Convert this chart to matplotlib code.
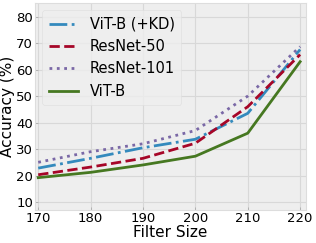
import matplotlib
matplotlib.use("Agg")
import matplotlib.pyplot as plt

filter_size = [170, 180, 190, 200, 210, 220]
vit_kd = [22.8, 26.5, 30.5, 33.7, 43.5, 67.6]
resnet50 = [20.3, 23.2, 26.5, 32.2, 46.0, 65.7]
resnet101 = [25.0, 29.0, 32.0, 37.0, 50.0, 68.7]
vit = [19.2, 21.2, 24.0, 27.3, 36.0, 63.0]

plt.style.use("bmh")

fig, ax = plt.subplots(figsize=(3.16, 2.43), dpi=100)
ax.set_facecolor("#eeeeee")

ax.plot(filter_size, vit_kd, color="#348ABD", linestyle="-.", linewidth=2, label="ViT-B (+KD)")
ax.plot(filter_size, resnet50, color="#A60628", linestyle="--", linewidth=2, label="ResNet-50")
ax.plot(filter_size, resnet101, color="#7A68A6", linestyle=":", linewidth=2, label="ResNet-101")
ax.plot(filter_size, vit, color="#467821", linestyle="-", linewidth=2, label="ViT-B")

ax.set_xlim(169.4, 221.1)
ax.set_ylim(7.0, 85.2)
ax.set_xticks(filter_size)
ax.set_yticks([10, 20, 30, 40, 50, 60, 70, 80])
ax.tick_params(labelsize=9.5, length=2, width=0.6, color="#aaaaaa", pad=1.5)
ax.grid(True, color="#d8d8d8", linestyle="-", linewidth=0.8)
for s in ax.spines.values():
    s.set_color("#dddddd")

ax.set_xlabel("Filter Size", fontsize=11, labelpad=0)
ax.set_ylabel("Accuracy (%)", fontsize=11, labelpad=1)

ax.legend(loc="upper left", fontsize=10.5, frameon=True, facecolor="#eeeeee",
          edgecolor="#dddddd", handlelength=2.0, borderpad=0.45, labelspacing=0.5,
          handletextpad=0.8)

plt.subplots_adjust(left=0.111, right=0.968, bottom=0.136, top=0.988)
plt.savefig("out.png", dpi=100)
